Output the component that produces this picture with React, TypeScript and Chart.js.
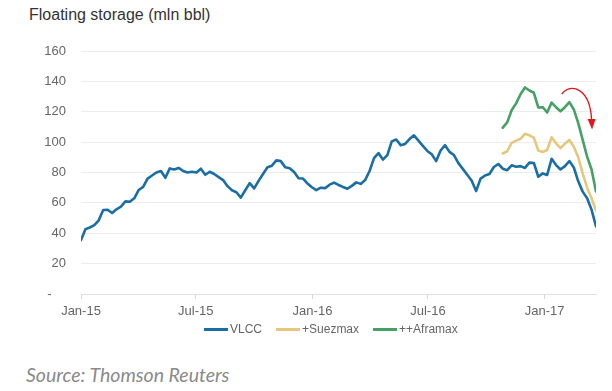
import React, { useEffect, useRef } from "react";
import { Chart, registerables } from "chart.js";

Chart.register(...registerables);

const chartTitle = "Floating storage (mln bbl)";
const sourceText = "Source: Thomson Reuters";

const seriesNames = ["VLCC", "+Suezmax", "++Aframax"];
const seriesColors = ["#1a6ea3", "#e6c87c", "#45a165"];

// weekly observations
const vlccStart = "2015-01-01";
const vlcc = [
  35.5, 42.7, 43.8, 45.3, 48.5, 55.3, 55.5, 53.3, 55.8, 57.5,
  61.0, 60.7, 63.0, 68.5, 70.5, 76.0, 78.0, 80.0, 81.0, 76.5,
  82.7, 82.0, 83.0, 81.0, 80.0, 80.5, 80.0, 82.5, 78.5, 80.5,
  79.0, 77.0, 75.0, 71.0, 68.3, 67.0, 63.5, 68.3, 73.0, 69.5,
  74.5, 79.0, 83.5, 84.5, 88.0, 87.5, 83.5, 82.8, 80.3, 76.2,
  76.0, 72.8, 70.3, 68.4, 70.0, 69.7, 72.0, 73.3, 71.8, 70.5,
  69.3, 71.2, 73.5, 72.5, 75.0, 81.0, 89.5, 92.8, 88.5, 91.5,
  100.5, 101.7, 98.0, 98.8, 102.0, 104.5, 101.0, 97.5, 94.2, 92.0,
  87.5, 94.5, 98.0, 93.6, 91.5, 86.2, 82.4, 78.5, 74.5, 67.8,
  76.0, 78.0, 79.0, 83.6, 85.6, 82.5, 81.5, 84.7, 83.8, 84.2,
  83.0, 86.5, 86.3, 77.2, 79.4, 78.4, 89.0, 84.9, 82.0, 84.2,
  87.5, 83.3, 74.2, 67.4, 63.0, 55.5, 44.5,
];

const extraStart = "2016-10-27";
const suezmax = [
  92.5, 94.0, 99.5, 101.0, 102.2, 105.5, 104.5, 103.0, 94.5, 93.5,
  94.8, 103.2, 99.2, 96.0, 99.0, 101.5, 97.0, 90.0, 79.5, 70.0,
  63.0, 55.0,
];
const aframax = [
  109.5, 113.0, 121.0, 125.5, 131.5, 136.0, 134.0, 132.5, 122.8, 123.0,
  119.5, 126.0, 123.0, 120.3, 123.0, 126.3, 121.5, 112.5, 101.5, 90.5,
  82.0, 67.5,
];

const tickDates = ["2015-01-01", "2015-07-01", "2016-01-01", "2016-07-01", "2017-01-01"];
const tickLabels = ["Jan-15", "Jul-15", "Jan-16", "Jul-16", "Jan-17"];
const yMin = 0;
const yMax = 160;
const yStep = 20;

// annotation arrow, in data terms (date, value)
const arrowPath = [
  { date: "2017-01-28", value: 131.6 },
  { date: "2017-02-11", value: 139.5 },
  { date: "2017-03-14", value: 135.5 },
  { date: "2017-03-16", value: 114.5 },
];
const arrowTipValue = 108.3;

const DAY = 86400000;
const dayOf = (s: string) => (Date.parse(s) - Date.parse(vlccStart)) / DAY;

const toPoints = (start: string, vals: number[]) =>
  vals.map((v, i) => ({ x: dayOf(start) + 7 * i, y: v }));

const FONT = "'Liberation Sans', Arial, sans-serif";

const arrowPlugin = {
  id: "arrowNote",
  afterDatasetsDraw(chart: any) {
    const { ctx, scales } = chart;
    const xs = scales.x;
    const ys = scales.y;
    const p = arrowPath.map((a) => ({
      x: xs.getPixelForValue(dayOf(a.date)),
      y: ys.getPixelForValue(a.value),
    }));
    ctx.save();
    ctx.strokeStyle = "#e3161c";
    ctx.fillStyle = "#e3161c";
    ctx.lineWidth = 1.3;
    ctx.beginPath();
    ctx.moveTo(p[0].x, p[0].y);
    ctx.bezierCurveTo(p[1].x, p[1].y, p[2].x, p[2].y, p[3].x, p[3].y);
    ctx.stroke();
    const tipY = ys.getPixelForValue(arrowTipValue);
    ctx.beginPath();
    ctx.moveTo(p[3].x - 4, p[3].y - 1);
    ctx.lineTo(p[3].x + 4, p[3].y - 1);
    ctx.lineTo(p[3].x + 0.5, tipY);
    ctx.closePath();
    ctx.fill();
    ctx.restore();
  },
};

export default function App() {
  const canvasRef = useRef<HTMLCanvasElement | null>(null);

  useEffect(() => {
    const canvas = canvasRef.current;
    if (!canvas) return;
    const lastDay = dayOf(vlccStart) + 7 * (vlcc.length - 1);
    const chart = new Chart(canvas, {
      type: "line",
      data: {
        datasets: [
          {
            label: seriesNames[2],
            data: toPoints(extraStart, aframax),
            borderColor: seriesColors[2],
            backgroundColor: seriesColors[2],
          },
          {
            label: seriesNames[1],
            data: toPoints(extraStart, suezmax),
            borderColor: seriesColors[1],
            backgroundColor: seriesColors[1],
          },
          {
            label: seriesNames[0],
            data: toPoints(vlccStart, vlcc),
            borderColor: seriesColors[0],
            backgroundColor: seriesColors[0],
          },
        ],
      },
      options: {
        animation: false,
        responsive: false,
        layout: { padding: { top: 51, right: 16, left: 0, bottom: 0 } },
        plugins: {
          legend: { display: false },
          tooltip: { enabled: false },
          title: { display: false },
        },
        elements: {
          point: { radius: 0 },
          line: { borderWidth: 2.6, tension: 0, borderJoinStyle: "round", borderCapStyle: "round" },
        },
        scales: {
          x: {
            type: "linear",
            min: 0,
            max: lastDay,
            afterBuildTicks: (s: any) => {
              s.ticks = tickDates.map((d) => ({ value: dayOf(d) }));
            },
            ticks: {
              callback: (_v: any, i: number) => tickLabels[i],
              color: "#666",
              font: { size: 13, family: FONT },
              padding: 5,
              maxRotation: 0,
              autoSkip: false,
            },
            grid: { drawOnChartArea: false, color: "#d9d9d9", tickLength: 5 },
            border: { color: "#e0e0e0" },
            afterFit: (s: any) => {
              s.height = 30;
            },
          },
          y: {
            min: yMin,
            max: yMax,
            ticks: {
              stepSize: yStep,
              callback: (v: any) => (Number(v) === 0 ? "-    " : String(v)),
              color: "#666",
              font: { size: 13, family: FONT },
              padding: 15,
            },
            grid: { color: "#ececec", drawTicks: false },
            border: { display: false },
            afterFit: (s: any) => {
              s.width = 81;
            },
          },
        },
      },
      plugins: [arrowPlugin],
    } as any);
    return () => chart.destroy();
  }, []);

  const legendItems = [0, 1, 2];

  return (
    <div
      style={{
        position: "fixed",
        left: 0,
        top: 0,
        width: 612,
        height: 391,
        background: "#fff",
        overflow: "hidden",
      }}
    >
      <div
        style={{
          position: "absolute",
          left: 29,
          top: 6,
          fontFamily: FONT,
          fontSize: 16,
          color: "#333",
          whiteSpace: "nowrap",
        }}
      >
        {chartTitle}
      </div>
      <canvas
        ref={canvasRef}
        width={612}
        height={324}
        style={{ position: "absolute", left: 0, top: 0, width: 612, height: 324 }}
      />
      <div
        style={{
          position: "absolute",
          left: 204,
          top: 322,
          display: "flex",
          alignItems: "center",
          fontFamily: FONT,
          fontSize: 12,
          color: "#666",
          whiteSpace: "nowrap",
        }}
      >
        {legendItems.map((i) => (
          <div key={i} style={{ display: "flex", alignItems: "center", marginRight: 14 }}>
            <span
              style={{
                display: "inline-block",
                width: 24,
                height: 3,
                background: seriesColors[i],
                marginRight: 2,
              }}
            />
            <span>{seriesNames[i]}</span>
          </div>
        ))}
      </div>
      <div
        style={{
          position: "absolute",
          left: 26,
          top: 363,
          fontFamily: "Lato, 'Open Sans', sans-serif",
          fontStyle: "italic",
          fontSize: 19.5,
          lineHeight: "24px",
          color: "#8a8a8a",
          whiteSpace: "nowrap",
        }}
      >
        {sourceText}
      </div>
    </div>
  );
}
